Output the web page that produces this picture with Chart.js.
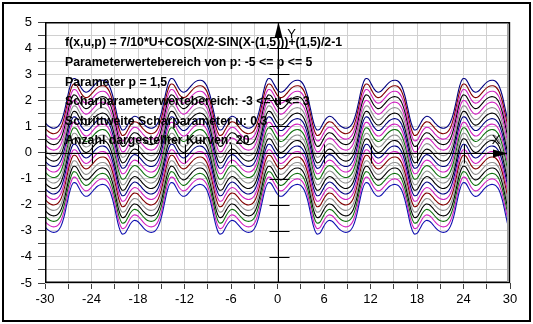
<!DOCTYPE html>
<html><head><meta charset="utf-8">
<script src="https://cdn.jsdelivr.net/npm/chart.js@4"></script>
<style>html,body{margin:0;padding:0;background:#fff;}#wrap{width:533px;height:324px;position:relative;}</style>
</head><body><div id="wrap"><canvas id="c" width="533" height="324"></canvas></div>
<script>
// x positions of the sampled points
const xValues = [-30.31,
-29.92,-29.52,-29.13,-28.74,-28.35,-27.95,-27.56,-27.17,
-26.77,-26.38,-25.99,-25.60,-25.20,-24.81,-24.42,-24.03,
-23.63,-23.24,-22.85,-22.45,-22.06,-21.67,-21.28,-20.88,
-20.49,-20.10,-19.71,-19.31,-18.92,-18.53,-18.13,-17.74,
-17.35,-16.96,-16.56,-16.17,-15.78,-15.39,-14.99,-14.60,
-14.21,-13.82,-13.42,-13.03,-12.64,-12.24,-11.85,-11.46,
-11.07,-10.67,-10.28,-9.89,-9.50,-9.10,-8.71,-8.32,
-7.92,-7.53,-7.14,-6.75,-6.35,-5.96,-5.57,-5.18,
-4.78,-4.39,-4.00,-3.61,-3.21,-2.82,-2.43,-2.03,
-1.64,-1.25,-0.86,-0.46,-0.07,0.32,0.71,1.11,
1.50,1.89,2.29,2.68,3.07,3.46,3.86,4.25,
4.64,5.03,5.43,5.82,6.21,6.61,7.00,7.39,
7.78,8.18,8.57,8.96,9.35,9.75,10.14,10.53,
10.92,11.32,11.71,12.10,12.50,12.89,13.28,13.67,
14.07,14.46,14.85,15.24,15.64,16.03,16.42,16.82,
17.21,17.60,17.99,18.39,18.78,19.17,19.56,19.96,
20.35,20.74,21.14,21.53,21.92,22.31,22.71,23.10,
23.49,23.88,24.28,24.67,25.06,25.45,25.85,26.24,
26.63,27.03,27.42,27.81,28.20,28.60,28.99,29.38,
29.77,30.17];

// curve values for u = 0 (p = 1,5) at the x positions above
const baseCurve = [-0.843,
-0.982,-1.095,-1.157,-1.165,-1.110,-0.941,-0.593,-0.080,0.432,0.721,0.711,0.520,0.320,0.217,0.235,0.343,
0.482,0.595,0.657,0.665,0.610,0.441,0.093,-0.420,-0.932,-1.221,-1.211,-1.020,-0.820,-0.717,-0.735,-0.843,
-0.982,-1.095,-1.157,-1.165,-1.110,-0.941,-0.593,-0.080,0.432,0.721,0.711,0.520,0.320,0.217,0.235,0.343,
0.482,0.595,0.657,0.665,0.610,0.441,0.093,-0.420,-0.932,-1.221,-1.211,-1.020,-0.820,-0.717,-0.735,-0.843,
-0.982,-1.095,-1.157,-1.165,-1.110,-0.941,-0.593,-0.080,0.432,0.721,0.711,0.520,0.320,0.217,0.235,0.343,
0.482,0.595,0.657,0.665,0.610,0.441,0.093,-0.420,-0.932,-1.221,-1.211,-1.020,-0.820,-0.717,-0.735,-0.843,
-0.982,-1.095,-1.157,-1.165,-1.110,-0.941,-0.593,-0.080,0.432,0.721,0.711,0.520,0.320,0.217,0.235,0.343,
0.482,0.595,0.657,0.665,0.610,0.441,0.093,-0.420,-0.932,-1.221,-1.211,-1.020,-0.820,-0.717,-0.735,-0.843,
-0.982,-1.095,-1.157,-1.165,-1.110,-0.941,-0.593,-0.080,0.432,0.721,0.711,0.520,0.320,0.217,0.235,0.343,
0.482,0.595,0.657,0.665,0.610,0.441,0.093,-0.420,-0.932,-1.221];

// Scharparameter u of the 20 drawn curves (bottom to top)
const scharParams = [-2.7,-2.4,-2.1,-1.8,-1.5,-1.2,-0.9,-0.6,-0.3,0,0.3,0.6,0.9,1.2,1.5,1.8,2.1,2.4,2.7,3.0];
const uFactor = 0.7;

const curveColors = ['#1010b0','#d020c0','#107010','#000000','#909090','#800000','#d020c0','#000080','#000000','#909090',
                     '#107010','#d020c0','#000080','#000000','#909090','#d020c0','#000000','#d020c0','#800000','#000080'];

const infoLines = [
  'f(x,u,p) = 7/10*U+COS(X/2-SIN(X-(1,5)))+(1,5)/2-1',
  'Parameterwertebereich von p: -5 <= p <= 5',
  'Parameter p = 1,5',
  'Scharparameterwertebereich: -3 <= u <= 3',
  'Schrittweite Scharparameter u: 0,3',
  'Anzahl dargestellter Kurven: 20'
];

const xMin = -30, xMax = 30, xStep = 3, xLabelStep = 6;
const yMin = -5, yMax = 5, yStep = 0.5;
const axisTickX = [-24,-18,-12,-6,6,12,18,24];
const axisTickY = [-4,-3,-2,-1,1,2,3,4];

const datasets = scharParams.map((u, i) => ({
  data: xValues.map((x, j) => ({x: x, y: baseCurve[j] + uFactor * u})),
  borderColor: curveColors[i],
  borderWidth: 1.1,
  pointRadius: 0,
  showLine: true,
  tension: 0.35,
  fill: false
}));

const tickFont = {family: '"Liberation Sans Narrow","Arial Narrow","Liberation Sans",Arial,sans-serif', size: 13};

const decor = {
  id: 'decor',
  beforeDraw(chart) {
    const ctx = chart.ctx;
    ctx.save();
    ctx.fillStyle = '#fff';
    ctx.fillRect(0, 0, chart.width, chart.height);
    ctx.restore();
  },
  afterDatasetsDraw(chart) {
    const ctx = chart.ctx, xs = chart.scales.x, ys = chart.scales.y, a = chart.chartArea;
    const x0 = Math.round(xs.getPixelForValue(0)) + 0.5;
    const y0 = Math.round(ys.getPixelForValue(0)) + 0.5;
    ctx.save();
    ctx.strokeStyle = '#000'; ctx.fillStyle = '#000'; ctx.lineWidth = 1;
    // axes through origin
    ctx.beginPath();
    ctx.moveTo(a.left, y0); ctx.lineTo(a.right, y0);
    ctx.moveTo(x0, a.top); ctx.lineTo(x0, a.bottom);
    axisTickX.forEach(v => { const px = Math.round(xs.getPixelForValue(v)) + 0.5; ctx.moveTo(px, y0 - 9); ctx.lineTo(px, y0 + 10); });
    axisTickY.forEach(v => { const py = Math.round(ys.getPixelForValue(v)) + 0.5; ctx.moveTo(x0 - 9, py); ctx.lineTo(x0 + 11, py); });
    ctx.stroke();
    // arrows
    ctx.beginPath();
    ctx.moveTo(x0, a.top); ctx.lineTo(x0 - 4, a.top + 16); ctx.lineTo(x0 + 4, a.top + 16); ctx.closePath();
    ctx.fill();
    ctx.beginPath();
    ctx.moveTo(a.right - 2, y0); ctx.lineTo(a.right - 17, y0 - 4); ctx.lineTo(a.right - 17, y0 + 4); ctx.closePath();
    ctx.fill();
    ctx.font = '13px "Liberation Sans", Arial, sans-serif';
    ctx.textAlign = 'center'; ctx.textBaseline = 'middle';
    ctx.fillText('Y', x0 + 13, a.top + 12);
    ctx.fillText('X', a.right - 14, y0 - 13);
    // info text
    ctx.font = 'bold 12.3px "Liberation Sans", Arial, sans-serif';
    ctx.textAlign = 'left';
    infoLines.forEach((t, i) => ctx.fillText(t, a.left + 20, a.top + 21 + i * 19.6));
    // plot frame
    ctx.lineWidth = 1.5;
    ctx.strokeStyle = '#000';
    ctx.strokeRect(a.left + 0.75, a.top + 0.75, a.right - a.left - 1.5, a.bottom - a.top - 1.5);
    ctx.fillStyle = '#a0a0a0';
    ctx.fillRect(a.right - 3, a.top + 2, 2, a.bottom - a.top - 3);
    ctx.restore();
  },
  afterDraw(chart) {
    const ctx = chart.ctx;
    ctx.save();
    ctx.strokeStyle = '#000'; ctx.lineWidth = 2;
    ctx.strokeRect(3, 3, 527, 318);
    ctx.restore();
  }
};

new Chart(document.getElementById('c'), {
  type: 'scatter',
  data: {datasets},
  plugins: [decor],
  options: {
    responsive: false,
    animation: false,
    devicePixelRatio: 1,
    layout: {padding: {left: 0, top: 22, right: 23, bottom: 0}},
    plugins: {legend: {display: false}, tooltip: {enabled: false}},
    scales: {
      x: {
        type: 'linear', min: xMin, max: xMax,
        afterFit(s) { s.height = 41; },
        border: {display: false},
        grid: {color: '#d0d0d0', lineWidth: 1, tickLength: 6, tickColor: '#404040'},
        ticks: {stepSize: xStep, autoSkip: false, maxRotation: 0, padding: 3, color: '#000', font: tickFont,
          callback: v => (Math.abs(v % xLabelStep) < 1e-9 ? String(v) : '')}
      },
      y: {
        type: 'linear', min: yMin, max: yMax,
        afterFit(s) { s.width = 45; },
        border: {display: false},
        grid: {color: '#d0d0d0', lineWidth: 1, tickLength: 7, tickColor: '#404040'},
        ticks: {stepSize: yStep, autoSkip: false, padding: 6, color: '#000', font: tickFont,
          callback: v => (Math.abs(v - Math.round(v)) < 1e-9 ? String(Math.round(v)) : '')}
      }
    }
  }
});
</script>
</body></html>
